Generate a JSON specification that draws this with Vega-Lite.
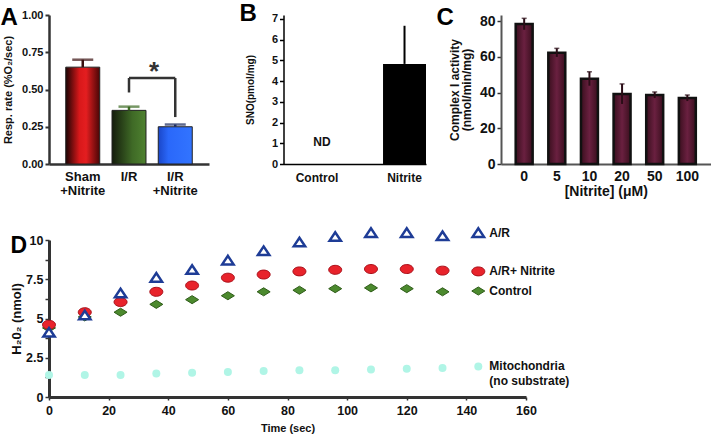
{
  "$schema": "https://vega.github.io/schema/vega-lite/v6.json",
  "padding": {"left": 0, "top": 1, "right": 0, "bottom": 0},
  "config": {
    "font": "Liberation Sans",
    "view": {"stroke": null},
    "axis": {
      "labelFont": "Liberation Sans", "titleFont": "Liberation Sans",
      "labelFontWeight": "bold", "titleFontWeight": "bold",
      "labelColor": "#111", "titleColor": "#111",
      "domainColor": "#333", "tickColor": "#333",
      "grid": false, "labelFlush": false, "labelOverlap": false
    },
    "title": {"font": "Liberation Sans", "fontWeight": "bold", "fontSize": 24, "anchor": "start", "frame": "bounds", "color": "#000", "offset": 0, "baseline": "alphabetic"}
  },
  "spacing": 25,
  "vconcat": [
    {
      "bounds": "flush",
      "spacing": 74.5,
      "hconcat": [
        {
          "width": 160, "height": 149,
          "title": {"text": "A", "dy": 25, "dx": -2},
          "data": {"values": [
            {"group": "Sham +Nitrite", "rate": 0.65, "hi": 0.70},
            {"group": "I/R", "rate": 0.36, "hi": 0.385},
            {"group": "I/R +Nitrite", "rate": 0.25, "hi": 0.265}
          ]},
          "encoding": {
            "x": {"field": "group", "type": "nominal",
              "scale": {"domain": ["Sham +Nitrite", "I/R", "I/R +Nitrite"], "paddingInner": 0.265, "paddingOuter": 0.362},
              "axis": {"title": null, "labelAngle": 0, "labelExpr": "split(datum.label, ' ')", "labelFontSize": 13, "labelLineHeight": 14, "ticks": false, "domainWidth": 2.5, "labelPadding": 6}}
          },
          "layer": [
            {
              "mark": {"type": "bar", "stroke": "#222", "strokeWidth": 1},
              "encoding": {
                "y": {"field": "rate", "type": "quantitative",
                  "scale": {"domain": [0, 1], "nice": false},
                  "axis": {"title": "Resp. rate (%O₂/sec)", "values": [0, 0.25, 0.5, 0.75, 1], "format": ".2f", "labelOverlap": false, "labelFontSize": 11, "titleFontSize": 11, "tickSize": 4, "tickWidth": 2, "domainWidth": 2.5, "titlePadding": 8}},
                "fill": {
                  "condition": [
                    {"test": "datum.group === 'Sham +Nitrite'", "value": {"gradient": "linear", "x1": 0, "x2": 1, "y1": 0, "y2": 0, "stops": [{"offset": 0, "color": "#1c0404"}, {"offset": 0.4, "color": "#d8181a"}, {"offset": 0.6, "color": "#e41e20"}, {"offset": 1, "color": "#4a0606"}]}},
                    {"test": "datum.group === 'I/R'", "value": {"gradient": "linear", "x1": 0, "x2": 1, "y1": 0, "y2": 0, "stops": [{"offset": 0, "color": "#141c0c"}, {"offset": 0.6, "color": "#3f6a26"}, {"offset": 1, "color": "#4f8230"}]}}
                  ],
                  "value": {"gradient": "linear", "x1": 0, "x2": 1, "y1": 0, "y2": 0, "stops": [{"offset": 0, "color": "#1a46c8"}, {"offset": 0.3, "color": "#2a68fa"}, {"offset": 1, "color": "#3274ff"}]}
                }
              }
            },
            {
              "mark": {"type": "rule", "strokeWidth": 2.5},
              "encoding": {
                "y": {"field": "rate", "type": "quantitative",
                  "axis": {"title": "Resp. rate (%O₂/sec)", "values": [0, 0.25, 0.5, 0.75, 1], "format": ".2f", "labelOverlap": false, "labelFontSize": 11, "titleFontSize": 11, "tickSize": 4, "tickWidth": 2, "domainWidth": 2.5, "titlePadding": 8}},
                "y2": {"field": "hi"},
                "color": {"field": "group", "type": "nominal", "legend": null, "scale": {"domain": ["Sham +Nitrite", "I/R", "I/R +Nitrite"], "range": ["#3a1010", "#3d6b24", "#1c2c60"]}}
              }
            },
            {
              "mark": {"type": "tick", "thickness": 2.5, "size": 21},
              "encoding": {
                "y": {"field": "hi", "type": "quantitative",
                  "axis": {"title": "Resp. rate (%O₂/sec)", "values": [0, 0.25, 0.5, 0.75, 1], "format": ".2f", "labelOverlap": false, "labelFontSize": 11, "titleFontSize": 11, "tickSize": 4, "tickWidth": 2, "domainWidth": 2.5, "titlePadding": 8}},
                "color": {"field": "group", "type": "nominal", "legend": null}
              }
            },
            {
              "data": {"values": [
                {"group": "I/R", "lo": 0.48, "top": 0.577},
                {"group": "I/R +Nitrite", "lo": 0.315, "top": 0.577}
              ]},
              "mark": {"type": "rule", "strokeWidth": 2.5, "color": "#333"},
              "encoding": {
                "y": {"field": "lo", "type": "quantitative",
                  "axis": {"title": "Resp. rate (%O₂/sec)", "values": [0, 0.25, 0.5, 0.75, 1], "format": ".2f", "labelOverlap": false, "labelFontSize": 11, "titleFontSize": 11, "tickSize": 4, "tickWidth": 2, "domainWidth": 2.5, "titlePadding": 8}},
                "y2": {"field": "top"}
              }
            },
            {
              "data": {"values": [{"group": "I/R", "group2": "I/R +Nitrite", "top": 0.577}]},
              "mark": {"type": "rule", "strokeWidth": 2.5, "color": "#333"},
              "encoding": {
                "x2": {"field": "group2"},
                "y": {"field": "top", "type": "quantitative",
                  "axis": {"title": "Resp. rate (%O₂/sec)", "values": [0, 0.25, 0.5, 0.75, 1], "format": ".2f", "labelOverlap": false, "labelFontSize": 11, "titleFontSize": 11, "tickSize": 4, "tickWidth": 2, "domainWidth": 2.5, "titlePadding": 8}}
              }
            },
            {
              "data": {"values": [{"group": "I/R", "label": "*", "y": 0.565}]},
              "mark": {"type": "text", "fontSize": 26, "fontWeight": "bold", "color": "#333", "dx": 25, "baseline": "alphabetic"},
              "encoding": {
                "y": {"field": "y", "type": "quantitative",
                  "axis": {"title": "Resp. rate (%O₂/sec)", "values": [0, 0.25, 0.5, 0.75, 1], "format": ".2f", "labelOverlap": false, "labelFontSize": 11, "titleFontSize": 11, "tickSize": 4, "tickWidth": 2, "domainWidth": 2.5, "titlePadding": 8}},
                "text": {"field": "label"}
              }
            }
          ]
        },
        {
          "width": 142.5, "height": 149,
          "title": {"text": "B", "dy": 17, "dx": -6},
          "data": {"values": [
            {"group": "Control", "sno": 0},
            {"group": "Nitrite", "sno": 4.83, "hi": 6.67}
          ]},
          "encoding": {
            "x": {"field": "group", "type": "nominal",
              "scale": {"domain": ["Control", "Nitrite"], "paddingInner": 0.509, "paddingOuter": 0.0686, "align": 1},
              "axis": {"title": null, "labelAngle": 0, "labelFontSize": 12, "ticks": false, "domainWidth": 1.5, "domainColor": "#000", "labelPadding": 8}}
          },
          "layer": [
            {
              "mark": {"type": "bar", "color": "#000"},
              "encoding": {
                "y": {"field": "sno", "type": "quantitative",
                  "scale": {"domain": [0, 7.19], "nice": false},
                  "axis": {"title": "SNO(pmol/mg)", "values": [0, 1, 2, 3, 4, 5, 6, 7], "labelOverlap": false, "labelFontSize": 11, "titleFontSize": 10, "tickSize": 4, "tickWidth": 1.5, "tickColor": "#000", "domainWidth": 1.5, "domainColor": "#000", "titlePadding": 16}}
              }
            },
            {
              "transform": [{"filter": "datum.hi != null"}],
              "mark": {"type": "rule", "strokeWidth": 2, "color": "#000"},
              "encoding": {
                "y": {"field": "sno", "type": "quantitative",
                  "axis": {"title": "SNO(pmol/mg)", "values": [0, 1, 2, 3, 4, 5, 6, 7], "labelOverlap": false, "labelFontSize": 11, "titleFontSize": 10, "tickSize": 4, "tickWidth": 1.5, "tickColor": "#000", "domainWidth": 1.5, "domainColor": "#000", "titlePadding": 16}},
                "y2": {"field": "hi"}
              }
            },
            {
              "data": {"values": [{"group": "Control", "label": "ND", "y": 1.06}]},
              "mark": {"type": "text", "fontSize": 12, "fontWeight": "bold", "color": "#111", "dx": 5, "baseline": "middle"},
              "encoding": {
                "y": {"field": "y", "type": "quantitative",
                  "axis": {"title": "SNO(pmol/mg)", "values": [0, 1, 2, 3, 4, 5, 6, 7], "labelOverlap": false, "labelFontSize": 11, "titleFontSize": 10, "tickSize": 4, "tickWidth": 1.5, "tickColor": "#000", "domainWidth": 1.5, "domainColor": "#000", "titlePadding": 16}},
                "text": {"field": "label"}
              }
            }
          ]
        },
        {
          "width": 209.5, "height": 149,
          "title": {"text": "C", "dy": 20, "dx": -12},
          "data": {"values": [
            {"n": "0", "act": 78.3, "lo": 75.1, "hi": 81.5},
            {"n": "5", "act": 62.3, "lo": 59.9, "hi": 64.7},
            {"n": "10", "act": 47.7, "lo": 43.8, "hi": 51.6},
            {"n": "20", "act": 39.2, "lo": 33.6, "hi": 44.8},
            {"n": "50", "act": 38.6, "lo": 36.9, "hi": 40.3},
            {"n": "100", "act": 36.9, "lo": 35.2, "hi": 38.6}
          ]},
          "encoding": {
            "x": {"field": "n", "type": "nominal",
              "scale": {"domain": ["0", "5", "10", "20", "50", "100"], "paddingInner": 0.48, "paddingOuter": 0.45},
              "axis": {"title": "[Nitrite] (μM)", "labelAngle": 0, "labelFontSize": 14, "titleFontSize": 14, "ticks": false, "domainWidth": 2, "domainColor": "#555", "labelPadding": 5, "titlePadding": 1}}
          },
          "layer": [
            {
              "mark": {"type": "bar", "stroke": "#111", "strokeWidth": 2.5,
                "fill": {"gradient": "linear", "x1": 0, "x2": 1, "y1": 0, "y2": 0, "stops": [{"offset": 0, "color": "#3a0f1e"}, {"offset": 0.5, "color": "#6a2040"}, {"offset": 1, "color": "#3a0f1e"}]}},
              "encoding": {
                "y": {"field": "act", "type": "quantitative",
                  "scale": {"domain": [0, 83.36], "nice": false},
                  "axis": {"title": ["Complex I activity", "(nmol/min/mg)"], "values": [0, 20, 40, 60, 80], "labelOverlap": false, "labelFontSize": 14, "titleFontSize": 12, "titleLineHeight": 12, "tickSize": 4, "tickWidth": 1.5, "domainWidth": 2, "domainColor": "#555", "titlePadding": 6}}
              }
            },
            {
              "mark": {"type": "rule", "strokeWidth": 2, "color": "#2a0c16"},
              "encoding": {
                "y": {"field": "lo", "type": "quantitative",
                  "axis": {"title": ["Complex I activity", "(nmol/min/mg)"], "values": [0, 20, 40, 60, 80], "labelOverlap": false, "labelFontSize": 14, "titleFontSize": 12, "titleLineHeight": 12, "tickSize": 4, "tickWidth": 1.5, "domainWidth": 2, "domainColor": "#555", "titlePadding": 6}},
                "y2": {"field": "hi"}
              }
            },
            {
              "mark": {"type": "tick", "thickness": 1.5, "size": 5, "color": "#2a0c16"},
              "encoding": {
                "y": {"field": "hi", "type": "quantitative",
                  "axis": {"title": ["Complex I activity", "(nmol/min/mg)"], "values": [0, 20, 40, 60, 80], "labelOverlap": false, "labelFontSize": 14, "titleFontSize": 12, "titleLineHeight": 12, "tickSize": 4, "tickWidth": 1.5, "domainWidth": 2, "domainColor": "#555", "titlePadding": 6}}
              }
            }
          ]
        }
      ]
    },
    {
      "width": 477, "height": 157,
      "title": {"text": "D", "dy": 39, "dx": 0, "fontSize": 23},
      "data": {"values": [
        {"t": 0, "v": 4.1, "series": "A/R"},
        {"t": 12, "v": 5.2, "series": "A/R"},
        {"t": 24, "v": 6.6, "series": "A/R"},
        {"t": 36, "v": 7.6, "series": "A/R"},
        {"t": 48, "v": 8.1, "series": "A/R"},
        {"t": 60, "v": 8.7, "series": "A/R"},
        {"t": 72, "v": 9.3, "series": "A/R"},
        {"t": 84, "v": 9.85, "series": "A/R"},
        {"t": 96, "v": 10.2, "series": "A/R"},
        {"t": 108, "v": 10.45, "series": "A/R"},
        {"t": 120, "v": 10.45, "series": "A/R"},
        {"t": 132, "v": 10.25, "series": "A/R"},
        {"t": 144, "v": 10.45, "series": "A/R"},
        {"t": 0, "v": 4.6, "series": "A/R+ Nitrite"},
        {"t": 12, "v": 5.4, "series": "A/R+ Nitrite"},
        {"t": 24, "v": 6.05, "series": "A/R+ Nitrite"},
        {"t": 36, "v": 6.7, "series": "A/R+ Nitrite"},
        {"t": 48, "v": 7.1, "series": "A/R+ Nitrite"},
        {"t": 60, "v": 7.6, "series": "A/R+ Nitrite"},
        {"t": 72, "v": 7.8, "series": "A/R+ Nitrite"},
        {"t": 84, "v": 8.0, "series": "A/R+ Nitrite"},
        {"t": 96, "v": 8.1, "series": "A/R+ Nitrite"},
        {"t": 108, "v": 8.15, "series": "A/R+ Nitrite"},
        {"t": 120, "v": 8.15, "series": "A/R+ Nitrite"},
        {"t": 132, "v": 8.05, "series": "A/R+ Nitrite"},
        {"t": 144, "v": 8.0, "series": "A/R+ Nitrite"},
        {"t": 0, "v": 4.4, "series": "Control"},
        {"t": 12, "v": 5.1, "series": "Control"},
        {"t": 24, "v": 5.4, "series": "Control"},
        {"t": 36, "v": 5.9, "series": "Control"},
        {"t": 48, "v": 6.2, "series": "Control"},
        {"t": 60, "v": 6.45, "series": "Control"},
        {"t": 72, "v": 6.7, "series": "Control"},
        {"t": 84, "v": 6.8, "series": "Control"},
        {"t": 96, "v": 6.9, "series": "Control"},
        {"t": 108, "v": 6.95, "series": "Control"},
        {"t": 120, "v": 6.9, "series": "Control"},
        {"t": 132, "v": 6.7, "series": "Control"},
        {"t": 144, "v": 6.75, "series": "Control"},
        {"t": 0, "v": 1.4, "series": "Mitochondria\n(no substrate)"},
        {"t": 12, "v": 1.4, "series": "Mitochondria\n(no substrate)"},
        {"t": 24, "v": 1.4, "series": "Mitochondria\n(no substrate)"},
        {"t": 36, "v": 1.5, "series": "Mitochondria\n(no substrate)"},
        {"t": 48, "v": 1.55, "series": "Mitochondria\n(no substrate)"},
        {"t": 60, "v": 1.6, "series": "Mitochondria\n(no substrate)"},
        {"t": 72, "v": 1.65, "series": "Mitochondria\n(no substrate)"},
        {"t": 84, "v": 1.7, "series": "Mitochondria\n(no substrate)"},
        {"t": 96, "v": 1.7, "series": "Mitochondria\n(no substrate)"},
        {"t": 108, "v": 1.75, "series": "Mitochondria\n(no substrate)"},
        {"t": 120, "v": 1.8, "series": "Mitochondria\n(no substrate)"},
        {"t": 132, "v": 1.85, "series": "Mitochondria\n(no substrate)"},
        {"t": 144, "v": 1.95, "series": "Mitochondria\n(no substrate)"}
      ]},
      "encoding": {
        "x": {"field": "t", "type": "quantitative",
          "scale": {"domain": [0, 160], "nice": false},
          "axis": {"title": "Time (sec)", "values": [0, 20, 40, 60, 80, 100, 120, 140, 160], "labelFontSize": 12.5, "titleFontSize": 11, "tickSize": 3, "tickWidth": 1.5, "domainWidth": 3, "labelPadding": 4, "titlePadding": 6}},
        "y": {"field": "v", "type": "quantitative",
          "scale": {"domain": [0, 10], "nice": false},
          "axis": {"title": "H₂0₂ (nmol)", "values": [0, 1.25, 2.5, 3.75, 5, 6.25, 7.5, 8.75, 10], "labelExpr": "datum.value % 2.5 === 0 ? '' + datum.value : ''", "labelFontSize": 12.5, "titleFontSize": 13, "tickSize": 4, "tickWidth": 1.5, "domainWidth": 3, "titlePadding": 2}}
      },
      "layer": [
        {
          "transform": [{"filter": "datum.series === 'Mitochondria\\n(no substrate)'"}],
          "mark": {"type": "point", "shape": "circle", "filled": true, "size": 64, "color": "#b0f5e6", "opacity": 1},
          "encoding": {}
        },
        {
          "transform": [{"filter": "datum.series === 'Control'"}],
          "mark": {"type": "point", "shape": "M-1,0L0,-0.62L1,0L0,0.62Z", "size": 169, "fill": "#4c8a2e", "stroke": "#2e5c18", "strokeWidth": 1, "opacity": 1},
          "encoding": {}
        },
        {
          "transform": [{"filter": "datum.series === 'A/R+ Nitrite'"}],
          "mark": {"type": "point", "shape": "M-1,0A1,0.69,0,1,1,1,0A1,0.69,0,1,1,-1,0Z", "size": 169, "fill": "#e8232b", "stroke": "#a8101a", "strokeWidth": 1, "opacity": 1},
          "encoding": {}
        },
        {
          "transform": [{"filter": "datum.series === 'A/R'"}],
          "mark": {"type": "point", "shape": "M-1,0.7L0,-0.8L1,0.7Z", "size": 130, "fill": "#ffffff", "stroke": "#1e3c96", "strokeWidth": 2.5, "opacity": 1},
          "encoding": {}
        },
        {
          "transform": [{"filter": "datum.t === 144"}],
          "mark": {"type": "text", "align": "left", "baseline": "middle", "dx": 11, "fontSize": 12, "fontWeight": "bold", "color": "#111", "lineBreak": "\n", "lineHeight": 15},
          "encoding": {"text": {"field": "series"}}
        }
      ]
    }
  ]
}
